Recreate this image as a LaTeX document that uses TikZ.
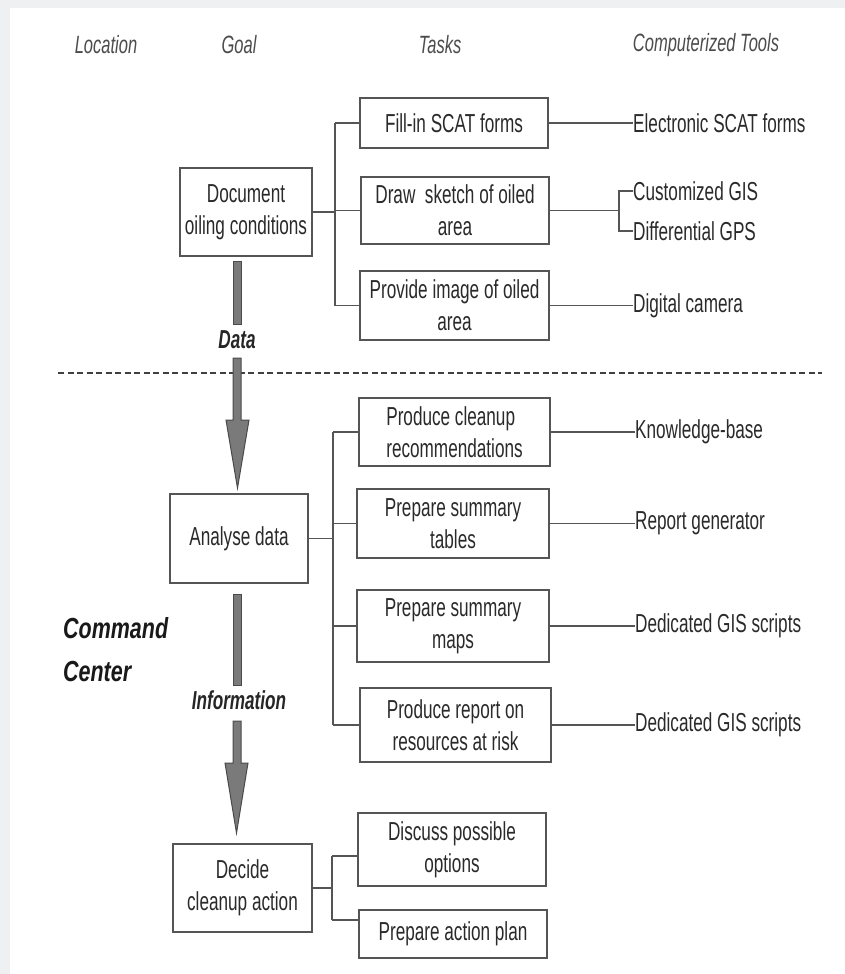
\documentclass[tikz,border=0pt]{standalone}
\usepackage{fontspec}
\setmainfont{Liberation Sans}[FakeStretch=0.66]
\newfontfamily\ccfont{Liberation Sans}[FakeStretch=0.74]
\usetikzlibrary{calc}
\definecolor{framegray}{HTML}{EEF0F2}
\definecolor{linegray}{HTML}{555555}
\definecolor{txtgray}{HTML}{2A2A2A}
\definecolor{arrowfill}{HTML}{7A7A7A}
\definecolor{arrowline}{HTML}{4A4A4A}
\begin{document}
\begin{tikzpicture}[x=1pt,y=-1pt,
  box/.style={draw=linegray, line width=1.6pt, inner sep=0pt, align=center,
    font=\fontsize{26}{32}\selectfont, text=txtgray},
  tool/.style={anchor=west, inner sep=0pt, font=\fontsize{26}{30}\selectfont, text=txtgray},
  header/.style={inner sep=0pt, font=\fontsize{25}{28}\selectfont\itshape, text=black!70},
  conn/.style={draw=linegray, line width=1.6pt},
  flowshaft/.style={fill=arrowfill, draw=arrowline, line width=1pt, line join=miter},
  flowlabel/.style={inner sep=0pt, font=\fontsize{26}{28}\selectfont\bfseries\itshape, text=black!85},
  sep/.style={draw=black!75, line width=2.2pt, dash pattern=on 6pt off 3.5pt},
]
\fill[framegray] (0,0) rectangle (845,974);
\fill[white] (10,8) rectangle (845,974);
\useasboundingbox (0,0) rectangle (845,974);

% headers
\node[header] (hloc) at (106,45) {Location};
\node[header] (hgoal) at (239,45) {Goal};
\node[header] (htask) at (440,45) {Tasks};
\node[header] (htool) at (706,45) {Computerized Tools};

% goals
\node[box, minimum width=132pt, minimum height=88pt] (doc) at (246,212) {Document\\oiling conditions};
\node[box, minimum width=138pt, minimum height=89pt] (analyse) at (239,538.5) {Analyse data};
\node[box, minimum width=139pt, minimum height=88pt] (decide) at (242.5,888) {Decide\\cleanup action};

% tasks
\node[box, minimum width=188pt, minimum height=50pt] (t1) at (454,123) {Fill-in SCAT forms};
\node[box, minimum width=188pt, minimum height=67pt] (t2) at (455,210.5) {Draw\ \ sketch of oiled\\area};
\node[box, minimum width=189pt, minimum height=69pt] (t3) at (454.5,305.5) {Provide image of oiled\\area};
\node[box, align=left, minimum width=191pt, minimum height=68pt] (t4) at (454.5,432) {Produce cleanup\\recommendations};
\node[box, minimum width=192pt, minimum height=69pt] (t5) at (453,523.5) {Prepare summary\\tables};
\node[box, minimum width=192pt, minimum height=72pt] (t6) at (453,626) {Prepare summary\\maps};
\node[box, minimum width=191pt, minimum height=74pt] (t7) at (455.5,725) {Produce report on\\resources at risk};
\node[box, minimum width=188pt, minimum height=73pt] (t8) at (452,849.5) {Discuss possible\\options};
\node[box, minimum width=188pt, minimum height=48pt] (t9) at (453,934) {Prepare action plan};

% tools
\node[tool] (o1) at (633,123) {Electronic SCAT forms};
\node[tool] (o2a) at (633,191) {Customized GIS};
\node[tool] (o2b) at (633,231) {Differential GPS};
\node[tool] (o3) at (633,305.5) {Digital camera};
\node[tool] (o4) at (635,432) {Knowledge-base};
\node[tool] (o5) at (635,523.5) {Report generator};
\node[tool] (o6) at (635,626) {Dedicated GIS scripts};
\node[tool] (o7) at (635,725) {Dedicated GIS scripts};

% location label
\node[inner sep=0pt, anchor=west, align=left, font=\ccfont\fontsize{29}{43}\selectfont\bfseries\itshape, text=black!90] (cc) at (63,650) {Command\\Center};

% flow labels
\node[flowlabel] (ldata) at (237,340) {Data};
\node[flowlabel] (linfo) at (239,700) {Information};

% brackets goal -> tasks
\coordinate (b1) at (335,0);
\draw[conn] (b1 |- t1.west) -- (b1 |- t3.west);
\draw[conn] (doc.east) -- (doc.east -| b1);
\foreach \t in {t1,t2,t3} \draw[conn] (\t.west) -- (\t.west -| b1);

\coordinate (b2) at (333,0);
\draw[conn] (b2 |- t4.west) -- (b2 |- t7.west);
\draw[conn] (analyse.east) -- (analyse.east -| b2);
\foreach \t in {t4,t5,t6,t7} \draw[conn] (\t.west) -- (\t.west -| b2);

\coordinate (b3) at (332,0);
\coordinate (s8) at ($(t8.west)+(0,6.5)$);
\coordinate (s9) at ($(t9.west)+(0,-14)$);
\draw[conn] (b3 |- s8) -- (b3 |- s9);
\draw[conn] (decide.east) -- (decide.east -| b3);
\draw[conn] (s8) -- (s8 -| b3);
\draw[conn] (s9) -- (s9 -| b3);

% tasks -> tools
\draw[conn] (t1.east) -- (t1.east -| o1.west);
\coordinate (b4) at (619,0);
\draw[conn] (t2.east) -- (t2.east -| b4);
\draw[conn] (o2a.west) -| (b4 |- o2b.west) -- (o2b.west);
\draw[conn] (t3.east) -- (t3.east -| o3.west);
\draw[conn] (t4.east) -- (t4.east -| o4.west);
\draw[conn] (t5.east) -- (t5.east -| o5.west);
\draw[conn] (t6.east) -- (t6.east -| o6.west);
\draw[conn] (t7.east) -- (t7.east -| o7.west);

% separator
\coordinate (sepL) at (58,373);
\coordinate (sepR) at (822,373);
\draw[sep] (sepL) -- (sepR);

% flow arrows
\filldraw[flowshaft] (233,261) rectangle (241,324);
\filldraw[flowshaft] (233,358) -- (241,358) -- (241,420) -- (249,420) -- (237.5,488) -- (226,420) -- (233,420) -- cycle;
\filldraw[flowshaft] (233,594) rectangle (241,685);
\filldraw[flowshaft] (233,721) -- (241,721) -- (241,763) -- (248,763) -- (236.5,833) -- (225,763) -- (233,763) -- cycle;
\end{tikzpicture}
\end{document}
